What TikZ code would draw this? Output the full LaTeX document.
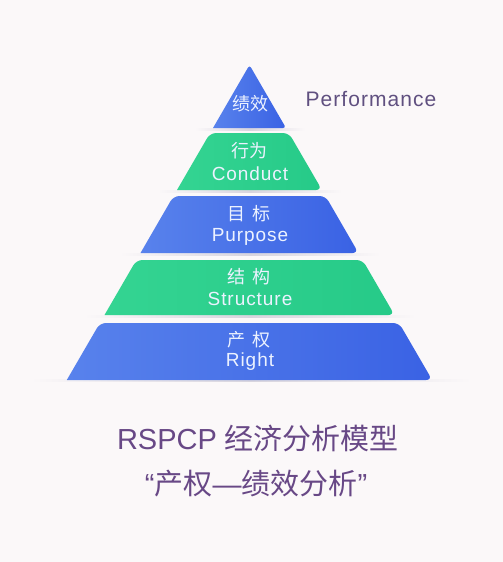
\documentclass[tikz,border=0pt]{standalone}
\usepackage{fontspec}
\setmainfont{Liberation Sans}
\newfontfamily\cjk{Noto Sans CJK SC}
\newfontfamily\wide[LetterSpace=5]{Liberation Sans}
\definecolor{bg}{RGB}{251,248,249}
\definecolor{bluel}{RGB}{88,130,236}
\definecolor{bluer}{RGB}{58,98,228}
\definecolor{greenl}{RGB}{52,212,146}
\definecolor{greenr}{RGB}{38,202,136}
\definecolor{titlec}{RGB}{104,72,134}
\definecolor{perfc}{RGB}{96,80,128}
\definecolor{tiertext}{RGB}{236,242,255}
\definecolor{shadowc}{RGB}{215,212,222}
\tikzset{
  bluetier/.style={left color=bluel, right color=bluer, shading angle=90},
  greentier/.style={left color=greenl, right color=greenr},
  cn/.style={text=tiertext, inner sep=0pt, font=\cjk\fontsize{18}{20}\selectfont},
  en/.style={text=tiertext, inner sep=0pt, font=\wide\fontsize{19}{21}\selectfont},
  title/.style={text=titlec, inner sep=0pt, font=\fontsize{29}{32}\selectfont},
}
\newcommand{\tiershadow}[3]{\shade[left color=bg, right color=bg, middle color=shadowc] (#1,#3) rectangle (#2,#3+2);}
\begin{document}
\begin{tikzpicture}[x=1pt,y=-1pt]
\fill[bg] (0,0) rectangle (503,562);
\useasboundingbox (0,0) rectangle (503,562);
% shadows
\tiershadow{195}{305}{128}
\tiershadow{158}{342}{190}
\tiershadow{120}{380}{253}
\tiershadow{84}{416}{315}
\tiershadow{30}{472}{379}
% tiers
\shade[bluetier] (213,128) [rounded corners=3pt] -- (249.5,65) -- (286,128) [sharp corners] -- cycle;
\shade[greentier] (177,190) [rounded corners=6pt] -- (210.1,133) -- (288.9,133) -- (322,190) [sharp corners] -- cycle;
\shade[bluetier] (140.5,253) [rounded corners=6pt] -- (173.5,196) -- (325.5,196) -- (358.5,253) [sharp corners] -- cycle;
\shade[greentier] (104.5,315) [rounded corners=6pt] -- (136.4,260) -- (362.6,260) -- (394.5,315) [sharp corners] -- cycle;
\shade[bluetier] (66.8,380) [rounded corners=6pt] -- (99.9,323) -- (399.1,323) -- (432.2,380) [sharp corners] -- cycle;
% texts
\node[cn] (t1) at (250,104) {绩效};
\node[text=perfc, inner sep=0pt, font=\wide\fontsize{21}{23}\selectfont] (perf) at (371,99) {Performance};
\node[cn] (t2c) at (249,151) {行为};
\node[en] (t2e) at (250,174) {Conduct};
\node[cn] (t3c) at (249,214) {目\hspace{0.4em}标};
\node[en] (t3e) at (250,237) {Purpose};
\node[cn] (t4c) at (249,277) {结\hspace{0.4em}构};
\node[en] (t4e) at (250,299) {Structure};
\node[cn] (t5c) at (249,340) {产\hspace{0.4em}权};
\node[en] (t5e) at (250,362) {Right};
\node[title] (title1) at (258,438) {RSPCP {\cjk 经济分析模型}};
\node[title] (title2) at (256,484) {“{\cjk 产权}—{\cjk 绩效分析}”};
\end{tikzpicture}
\end{document}
